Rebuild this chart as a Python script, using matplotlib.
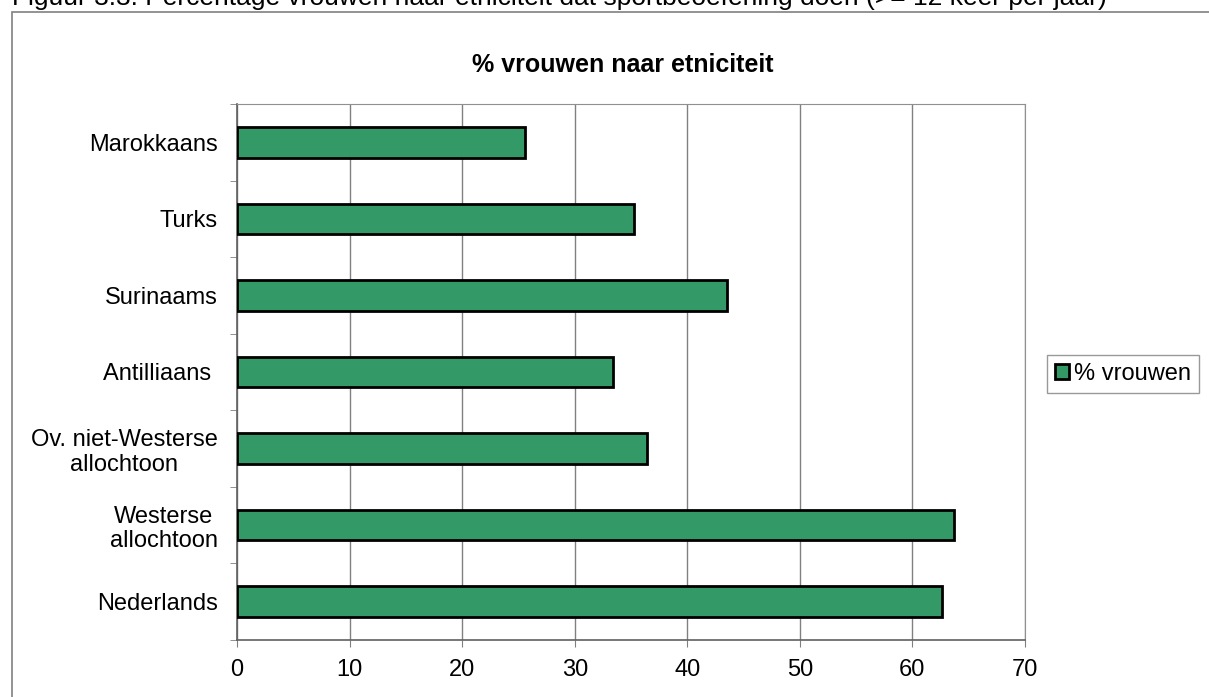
import matplotlib
matplotlib.use("Agg")
import matplotlib.pyplot as plt
from matplotlib.patches import Rectangle

plt.rcParams['font.family'] = ['Liberation Sans', 'DejaVu Sans']

# data, bottom to top as drawn
categories = ["Nederlands", "Westerse\nallochtoon", "Ov. niet-Westerse\nallochtoon",
              "Antilliaans ", "Surinaams", "Turks", "Marokkaans"]
vrouwen = [62.6, 63.7, 36.4, 33.4, 43.5, 35.3, 25.6]
xticks = [0, 10, 20, 30, 40, 50, 60, 70]

W, H = 1209, 697
fig = plt.figure(figsize=(W / 100, H / 100), dpi=100)

# outer chart frame (runs off the right/bottom edge like the screenshot)
fig.patches.append(Rectangle((12 / W, -0.05), 1.1, 1 - 12 / H + 0.05,
                             transform=fig.transFigure, fill=False,
                             edgecolor="#808080", linewidth=1.2))

# caption above the chart, mostly cropped off in the screenshot
fig.text(12 / W, 1 - 5 / H,
         "Figuur 3.3: Percentage vrouwen naar etniciteit dat sportbeoefening doen (>= 12 keer per jaar)",
         fontsize=19, ha="left", va="baseline")
fig.text(623 / W, 1 - 65 / H, "% vrouwen naar etniciteit",
         fontsize=18, fontweight="bold", ha="center", va="center")

ax = fig.add_axes([237 / W, 1 - 640 / H, (1025 - 237) / W, (640 - 104) / H])
y = list(range(len(categories)))
ax.barh(y, vrouwen, height=0.4, color="#339966", edgecolor="black",
        linewidth=2, label="% vrouwen", zorder=3)

ax.set_xlim(0, 70)
ax.set_ylim(-0.5, len(categories) - 0.5)
ax.set_xticks(xticks)
ax.set_xticklabels([str(t) for t in xticks], fontsize=17)
ax.set_yticks(y)
ax.set_yticklabels(categories, fontsize=17, multialignment="center",
                   linespacing=1.15)
ax.tick_params(axis="y", which="major", length=0, pad=14)
ax.set_yticks([i - 0.5 for i in range(len(categories) + 1)], minor=True)
ax.tick_params(axis="y", which="minor", length=5, color="#808080", direction="out")
ax.tick_params(axis="x", length=5, color="#808080", direction="out", pad=9)

ax.grid(axis="x", color="#808080", linewidth=1, zorder=0)
for side in ["top", "right"]:
    ax.spines[side].set_color("#909090")
for side in ["left", "bottom"]:
    ax.spines[side].set_color("#606060")
    ax.spines[side].set_linewidth(1.2)

leg = ax.legend(loc="center left", bbox_to_anchor=(1047 / W, 1 - 374 / H),
                bbox_transform=fig.transFigure, fontsize=17, frameon=True,
                fancybox=False, edgecolor="#808080", handlelength=0.6,
                handleheight=0.6, handletextpad=0.2, borderpad=0.35,
                borderaxespad=0)
leg.get_frame().set_linewidth(1)

fig.savefig("out.png", dpi=100)
